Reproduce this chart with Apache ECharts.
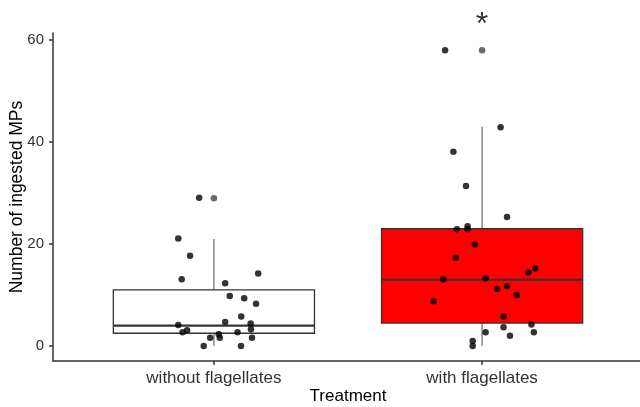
<!DOCTYPE html>
<html>
<head>
<meta charset="utf-8">
<script src="https://cdn.jsdelivr.net/npm/echarts@6/dist/echarts.min.js"></script>
<style>
  html, body { margin: 0; padding: 0; background: #fff; }
  #chart { width: 640px; height: 407px; }
</style>
</head>
<body>
<div id="chart"></div>
<script>
var categories = ["without flagellates", "with flagellates"];
// min, Q1, median, Q3, max (whisker ends)
var boxStats = [[0, 2.5, 4, 11, 21], [0, 4.5, 13, 23, 43]];
var boxFill = ["#FFFFFF", "#FF0000"];
var outliers = [[1, 29], [2, 58]];

// jittered raw points
var withoutX = [0.945, 0.867, 0.911, 0.880, 1.165, 1.042, 1.059, 1.113, 1.157, 1.102, 1.042, 1.137,
  1.138, 0.867, 0.883, 0.900, 0.986, 1.018, 1.022, 1.088, 1.142, 0.962, 1.101];
var withoutY = [29.1, 21.1, 17.7, 13.1, 14.2, 12.3, 9.8, 9.35, 8.3, 5.8, 4.7, 4.4,
  3.3, 4.1, 2.7, 3.1, 1.6, 2.3, 1.6, 2.7, 1.6, 0, 0];
var withX = [1.862, 2.069, 1.893, 1.940, 2.093, 1.906, 1.946, 1.946, 1.973, 1.902, 2.198, 2.173,
  1.855, 2.013, 2.057, 2.093, 2.129, 1.819, 2.080, 2.080, 2.184, 2.013, 2.104, 2.193, 1.965, 1.965];
var withY = [58, 42.9, 38.1, 31.4, 25.3, 22.9, 23.5, 22.9, 19.9, 17.3, 15.2, 14.4,
  13.1, 13.3, 11.2, 11.7, 10.0, 8.8, 5.8, 3.7, 4.2, 2.7, 2.0, 2.7, 1, 0];

var yTicks = [0, 20, 40, 60];
var xTicks = [1, 2];
var signif = [[2, 63.0, "*"]];

function zip(xs, ys) {
  return xs.map(function (x, i) { return [x, ys[i]]; });
}

var chart = echarts.init(document.getElementById("chart"));

var boxData = boxStats.map(function (s, i) { return [xTicks[i]].concat(s); });

var option = {
  animation: false,
  grid: { left: 53, right: -3, top: 33, bottom: 46, outerBoundsMode: "none", containLabel: false },
  xAxis: {
    type: "value",
    min: 0.4,
    max: 2.6,
    name: "Treatment",
    nameLocation: "middle",
    nameGap: 27,
    nameMoveOverlap: false,
    nameTextStyle: { fontFamily: "Liberation Sans", fontSize: 17, color: "#000" },
    axisLine: { onZero: false, lineStyle: { color: "#333", width: 1.5 } },
    axisTick: { customValues: xTicks, length: 4, lineStyle: { color: "#333", width: 1.5 } },
    axisLabel: {
      customValues: xTicks,
      margin: 9,
      fontFamily: "Liberation Sans",
      fontSize: 17,
      color: "#333",
      formatter: function (v) { return categories[Math.round(v) - 1]; }
    },
    splitLine: { show: false }
  },
  yAxis: {
    type: "value",
    min: -2.94,
    max: 61.4,
    name: "Number of ingested MPs",
    nameLocation: "middle",
    nameGap: 27,
    nameMoveOverlap: false,
    nameTextStyle: { fontFamily: "Liberation Sans", fontSize: 17.5, color: "#000" },
    axisLine: { show: true, onZero: false, lineStyle: { color: "#333", width: 1.5 } },
    axisTick: { show: true, customValues: yTicks, length: 4, lineStyle: { color: "#333", width: 1.5 } },
    axisLabel: {
      customValues: yTicks,
      margin: 9,
      fontFamily: "Liberation Sans",
      fontSize: 15,
      color: "#333"
    },
    splitLine: { show: false }
  },
  series: [
    {
      type: "custom",
      data: boxData,
      encode: { x: 0, y: [1, 2, 3, 4, 5] },
      renderItem: function (params, api) {
        var x = api.value(0);
        var half = api.size([0.75, 0])[0] / 2;
        var pMin = api.coord([x, api.value(1)]);
        var pQ1 = api.coord([x, api.value(2)]);
        var pMed = api.coord([x, api.value(3)]);
        var pQ3 = api.coord([x, api.value(4)]);
        var pMax = api.coord([x, api.value(5)]);
        var whisker = { stroke: "#666", lineWidth: 1.2 };
        return {
          type: "group",
          children: [
            { type: "line", shape: { x1: pMin[0], y1: pMin[1], x2: pQ1[0], y2: pQ1[1] }, style: whisker },
            { type: "line", shape: { x1: pQ3[0], y1: pQ3[1], x2: pMax[0], y2: pMax[1] }, style: whisker },
            {
              type: "rect",
              shape: { x: pQ3[0] - half, y: pQ3[1], width: half * 2, height: pQ1[1] - pQ3[1] },
              style: { fill: boxFill[params.dataIndex], stroke: "#333", lineWidth: 1.3 }
            },
            {
              type: "line",
              shape: { x1: pMed[0] - half, y1: pMed[1], x2: pMed[0] + half, y2: pMed[1] },
              style: { stroke: "#333", lineWidth: 2.2 }
            }
          ]
        };
      }
    },
    {
      type: "scatter",
      data: outliers,
      symbolSize: 6.5,
      itemStyle: { color: "#444" },
      z: 3
    },
    {
      type: "scatter",
      data: zip(withoutX, withoutY).concat(zip(withX, withY)),
      symbolSize: 6.5,
      itemStyle: { color: "#000" },
      z: 4
    },
    {
      type: "scatter",
      data: signif,
      symbolSize: 1,
      clip: false,
      itemStyle: { color: "rgba(0,0,0,0)" },
      label: {
        show: true,
        position: "inside",
        formatter: function (p) { return p.data[2]; },
        fontFamily: "Liberation Sans",
        fontSize: 32,
        color: "#000"
      },
      z: 5
    }
  ]
};

chart.setOption(option);
</script>
</body>
</html>
